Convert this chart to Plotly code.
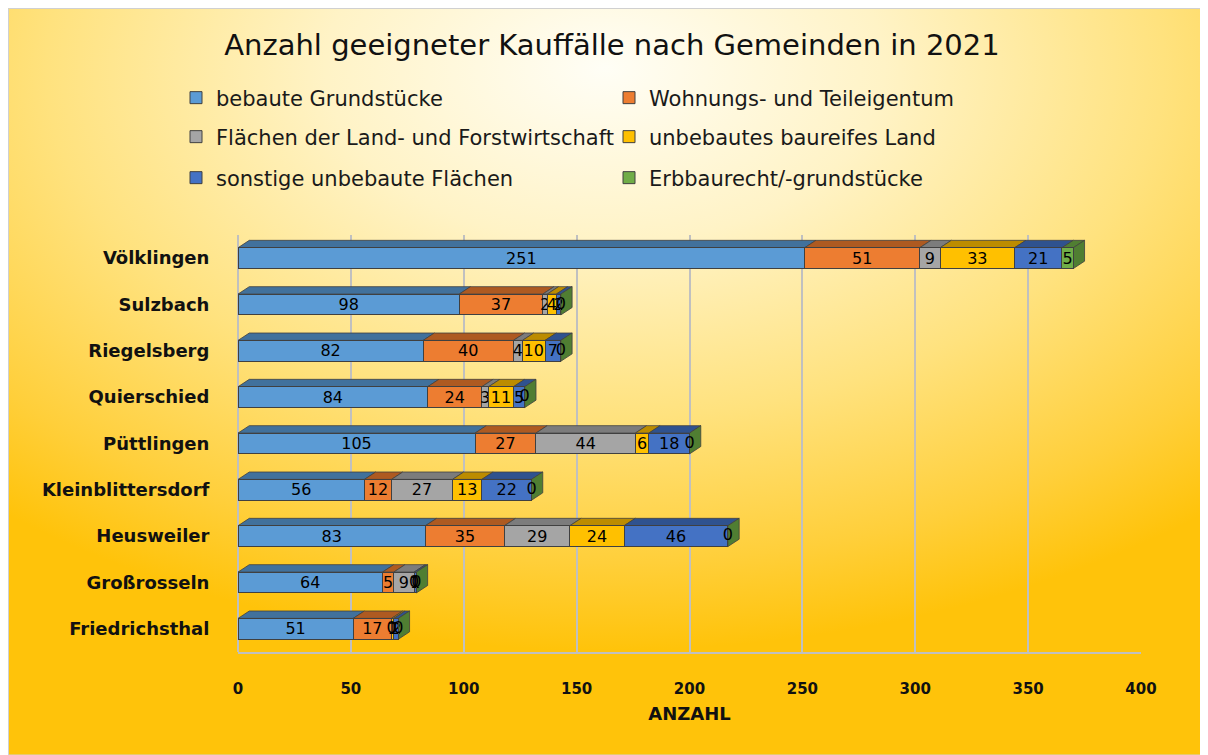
import base64
import plotly.graph_objects as go

# ---------------- data ----------------
categories = ["Völklingen", "Sulzbach", "Riegelsberg", "Quierschied", "Püttlingen",
              "Kleinblittersdorf", "Heusweiler", "Großrosseln", "Friedrichsthal"]
series_names = ["bebaute Grundstücke", "Wohnungs- und Teileigentum",
                "Flächen der Land- und Forstwirtschaft", "unbebautes baureifes Land",
                "sonstige unbebaute Flächen", "Erbbaurecht/-grundstücke"]
bebaute = [251, 98, 82, 84, 105, 56, 83, 64, 51]
wohnung = [51, 37, 40, 24, 27, 12, 35, 5, 17]
land_forst = [9, 2, 4, 3, 44, 27, 29, 9, 0]
baureif = [33, 4, 10, 11, 6, 13, 24, 0, 1]
sonstige = [21, 2, 7, 5, 18, 22, 46, 1, 2]
erbbau = [5, 0, 0, 0, 0, 0, 0, 0, 0]
x_ticks = [0, 50, 100, 150, 200, 250, 300, 350, 400]

series_values = [bebaute, wohnung, land_forst, baureif, sonstige, erbbau]
colors = ["#5B9BD5", "#ED7D31", "#A5A5A5", "#FFC000", "#4472C4", "#70AD47"]
dark_colors = ["#41719C", "#AE5A21", "#7C7C7C", "#BC8C00", "#2F528F", "#507E32"]
legend_ids = ["legend", "legend", "legend2", "legend2", "legend3", "legend3"]

FONT = "DejaVu Sans"
y_pos = list(range(len(categories)))
bar_w = 0.45
dx, dy = 5.0, 0.16  # 3D depth offsets (style)

fig = go.Figure()
for name, vals, col, leg in zip(series_names, series_values, colors, legend_ids):
    fig.add_trace(go.Bar(
        y=y_pos, x=vals, name=name, orientation="h", width=bar_w,
        marker=dict(color=col, line=dict(color="#404040", width=1)),
        text=[str(v) for v in vals], textposition="inside",
        insidetextanchor="middle", textangle=0,
        textfont=dict(family=FONT, size=16, color="black"),
        legend=leg,
    ))

# labels for zero-valued segments (Plotly hides text of zero-width bars)
zx, zy = [], []
shapes = []
for i in y_pos:
    base = 0
    top = i - bar_w / 2
    bot = i + bar_w / 2
    for s, vals in enumerate(series_values):
        v = vals[i]
        if v > 0:
            x0, x1 = base, base + v
            shapes.append(dict(
                type="path", xref="x", yref="y",
                path=f"M{x0},{top} L{x1},{top} L{x1+dx},{top-dy} L{x0+dx},{top-dy} Z",
                fillcolor=dark_colors[s], line=dict(color="#404040", width=0.8),
                layer="between"))
        else:
            zx.append(base)
            zy.append(i)
        base += v
    shapes.append(dict(
        type="path", xref="x", yref="y",
        path=f"M{base},{top} L{base+dx},{top-dy} L{base+dx},{bot-dy} L{base},{bot} Z",
        fillcolor=dark_colors[5], line=dict(color="#404040", width=0.8),
        layer="between"))

fig.add_trace(go.Scatter(
    x=zx, y=zy, mode="text", text=["0"] * len(zx), textposition="middle center",
    textfont=dict(family=FONT, size=16, color="black"), showlegend=False,
    hoverinfo="skip"))

# figure geometry (page body adds 8px offset)
W, H = 1200, 747
L, R, T, B = 230, 1133, 227, 644
pw, ph = R - L, B - T

def px(xpix):
    return (xpix - L) / pw

def py(ypix):
    return (B - ypix) / ph

# background gradient as SVG image
svg = """<svg xmlns='http://www.w3.org/2000/svg' width='1194' height='747' viewBox='0 0 1194 747' preserveAspectRatio='none'>
<defs><radialGradient id='g' cx='50%' cy='8%' r='78%' fx='50%' fy='8%'>
<stop offset='0' stop-color='#FFFEF6'/>
<stop offset='0.3' stop-color='#FFF3C6'/>
<stop offset='0.6' stop-color='#FFE27E'/>
<stop offset='0.85' stop-color='#FFCF3A'/>
<stop offset='1' stop-color='#FFC30A'/>
</radialGradient></defs>
<rect width='1194' height='747' fill='url(#g)'/></svg>"""
src = "data:image/svg+xml;base64," + base64.b64encode(svg.encode("utf-8")).decode()

fig.add_layout_image(dict(
    source=src, xref="paper", yref="paper", x=px(0), y=py(0),
    sizex=1194 / pw, sizey=747 / ph, sizing="stretch",
    xanchor="left", yanchor="top", layer="below"))

shapes.append(dict(type="rect", xref="paper", yref="paper",
                   x0=px(0.5), x1=px(1193.5), y0=py(747), y1=py(0.5),
                   line=dict(color="#D0D0D0", width=1), layer="below"))

legend_common = dict(orientation="h", entrywidth=388, entrywidthmode="pixels",
                     traceorder="normal",
                     font=dict(family=FONT, size=21, color="#1a1a1a"),
                     bgcolor="rgba(0,0,0,0)", xanchor="left", yanchor="middle",
                     itemclick=False, itemdoubleclick=False)

fig.update_layout(
    width=W, height=H,
    margin=dict(l=L, r=W - R, t=T, b=H - B, autoexpand=False),
    paper_bgcolor="white", plot_bgcolor="rgba(0,0,0,0)",
    barmode="stack",
    title=dict(text="Anzahl geeigneter Kauffälle nach Gemeinden in 2021",
               xref="container", x=604 / W, xanchor="center",
               yref="container", y=1 - 37 / H, yanchor="middle",
               font=dict(family=FONT, size=29, color="#111111")),
    legend=dict(**legend_common, x=px(168), y=py(90)),
    legend2=dict(**legend_common, x=px(168), y=py(129)),
    legend3=dict(**legend_common, x=px(168), y=py(170)),
    uniformtext=dict(minsize=16, mode="show"),
    shapes=shapes,
    xaxis=dict(range=[0, 400], tickvals=x_ticks, ticktext=[str(t) for t in x_ticks],
               automargin=False,
               showgrid=True, gridcolor="#C0C0C0", gridwidth=2,
               zeroline=True, zerolinecolor="#C0C0C0", zerolinewidth=2,
               showline=True, linecolor="#C0C0C0", linewidth=2,
               ticks="outside", ticklen=22, tickcolor="rgba(0,0,0,0)",
               tickfont=dict(family=FONT, size=15, color="#111111", weight=700),
               title=dict(text="ANZAHL", standoff=10,
                          font=dict(family=FONT, size=18, color="#111111", weight=700))),
    yaxis=dict(range=[len(categories) - 0.5, -0.5], tickvals=y_pos, ticktext=categories,
               automargin=False, showgrid=False, zeroline=False,
               ticks="outside", ticklen=24, tickcolor="rgba(0,0,0,0)",
               tickfont=dict(family=FONT, size=18, color="#111111", weight=700)),
)

fig.write_html("out.html")
